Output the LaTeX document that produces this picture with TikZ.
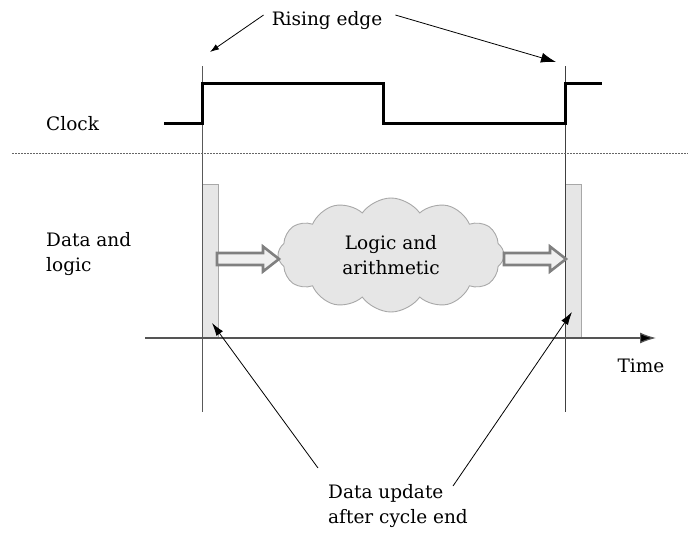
\documentclass[tikz,border=0pt]{standalone}
\usepackage{fontspec}
\setmainfont{DejaVu Serif}
\usetikzlibrary{arrows.meta,shapes.symbols}

\definecolor{boxfill}{HTML}{E6E6E6}
\definecolor{boxline}{HTML}{A8A8A8}
\definecolor{arrline}{HTML}{808080}
\definecolor{axisline}{HTML}{555555}

\tikzset{
  lbl/.style={inner sep=0pt, font=\fontsize{18.5}{25}\selectfont, align=left},
  clockwave/.style={line width=3pt, black, line join=miter},
  edgeline/.style={line width=1pt, black!75},
  regbox/.style={fill=boxfill, draw=boxline, line width=0.8pt},
  pointer/.style={line width=0.8pt, black, -{Latex[length=13pt,width=8pt]}},
  % hollow block arrow, 62 long, pointing right from its tail
  pics/flowarr/.style={code={
    \draw[draw=arrline, fill=boxfill!60, line width=2.6pt, line join=miter]
      (0,-6) -- (46,-6) -- (46,-12.5) -- (62,0) -- (46,12.5) -- (46,6) -- (0,6) -- cycle;
  }},
}

\begin{document}
\begin{tikzpicture}[x=1pt,y=-1pt]
\useasboundingbox (0,0) rectangle (688,533);

% register holding periods
\node[regbox, minimum width=16pt, minimum height=154pt, inner sep=0pt, anchor=north west] (regL) at (202,184) {};
\node[regbox, minimum width=16pt, minimum height=154pt, inner sep=0pt, anchor=north west] (regR) at (565,184) {};

% clock edge markers
\coordinate (eLtop) at (202,66);
\coordinate (eLbot) at (202,412);
\coordinate (eRtop) at (565,66);
\coordinate (eRbot) at (565,412);
\draw[edgeline, black!65] (eLtop) -- (eLbot);
\draw[edgeline] (eRtop) -- (eRbot);

% clock waveform
\coordinate (c0) at (164,123);
\coordinate (c1) at (202,123);
\coordinate (c2) at (202,83);
\coordinate (c3) at (383,83);
\coordinate (c4) at (383,123);
\coordinate (c5) at (565,123);
\coordinate (c6) at (565,83);
\coordinate (c7) at (602,83);
\draw[clockwave] (c0) -- (c1) -- (c2) -- (c3) -- (c4) -- (c5) -- (c6) -- (c7);

% separator
\coordinate (sepL) at (12,153);
\coordinate (sepR) at (688,153);
\draw[black!60, line width=0.8pt, dash pattern=on 1.5pt off 1.5pt] (sepL) -- (sepR);

% time axis
\coordinate (axL) at (145,338);
\coordinate (axR) at (656,338);
\draw[axisline, line width=1.2pt, -{Latex[length=16pt,width=11pt,fill=black]}] (axL) -- (axR);

% labels
\node[lbl, anchor=base] (rise) at (327,25) {Rising edge};
\node[lbl, anchor=base west] (clk) at (46,130) {Clock};
\node[lbl, anchor=north west] (dl) at (46,232) {Data and\\logic};
\node[lbl, anchor=base] (time) at (641,372) {Time};
\node[lbl, anchor=north west] (upd) at (328,484) {Data update\\after cycle end};

% combinational logic cloud
\node[cloud, cloud puffs=12, cloud puff arc=110, aspect=2.1, draw=boxline, fill=boxfill,
  line width=0.9pt, minimum width=226pt, minimum height=114pt, inner sep=0pt,
  font=\fontsize{18.5}{25}\selectfont, align=center] (logic) at (391,255) {Logic and\\arithmetic};

% data flow arrows
\pic at (217,259) {flowarr};
\pic at (504,259) {flowarr};

% pointers
\coordinate (pRiseL) at (210,52);
\coordinate (pRiseR) at (556,62);
\draw[line width=0.8pt, -{Latex[length=9pt,width=6pt]}] (rise.west) ++(-8,-5) -- (pRiseL);
\draw[pointer, -{Latex[length=15pt,width=10pt]}] (rise.east) ++(13,-5) -- (pRiseR);

\coordinate (uL) at (318,468);
\coordinate (uR) at (453,486);
\coordinate (pUpdL) at (212,323);
\coordinate (pUpdR) at (572,312);
\draw[pointer] (uL) -- (pUpdL);
\draw[pointer] (uR) -- (pUpdR);
\end{tikzpicture}
\end{document}
